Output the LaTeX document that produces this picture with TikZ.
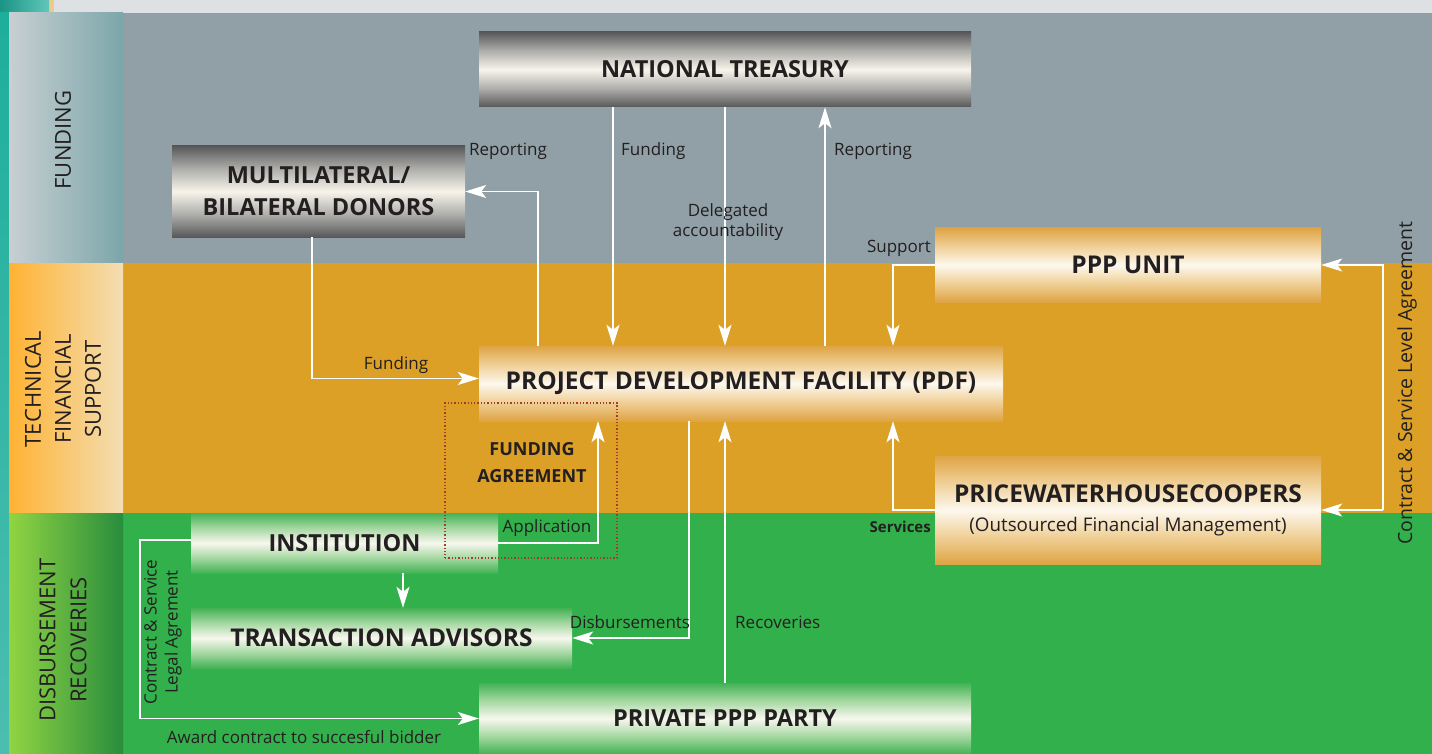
\documentclass[tikz,border=0pt]{standalone}
\usepackage{fontspec}
\setmainfont{Open Sans}
\usetikzlibrary{arrows.meta}

\definecolor{ink}{HTML}{231F20}
\definecolor{topgrey}{HTML}{DDE1E3}
\definecolor{tealedge}{HTML}{1EAE9C}
\definecolor{beige}{HTML}{E9CB8E}
\definecolor{fundgrey}{HTML}{90A0A6}
\definecolor{techorange}{HTML}{DCA027}
\definecolor{disbgreen}{HTML}{32B04C}
\definecolor{agreered}{HTML}{A83A2A}
\definecolor{metdark}{HTML}{58585A}
\definecolor{metmid}{HTML}{ABABA8}
\definecolor{metlight}{HTML}{F8F4EB}
\definecolor{ordark}{HTML}{DFA444}
\definecolor{ormid}{HTML}{F0D19A}
\definecolor{orlight}{HTML}{FDF8EE}
\definecolor{grdark}{HTML}{43B255}
\definecolor{grmid}{HTML}{A8D9A4}
\definecolor{grlight}{HTML}{F7F7EE}

\pgfdeclareverticalshading{metal}{100bp}{color(0bp)=(metdark); color(25bp)=(metdark); color(37bp)=(metmid); color(50bp)=(metlight); color(63bp)=(metmid); color(75bp)=(metdark); color(100bp)=(metdark)}
\pgfdeclareverticalshading{gold}{100bp}{color(0bp)=(ordark); color(25bp)=(ordark); color(38bp)=(ormid); color(50bp)=(orlight); color(62bp)=(ormid); color(75bp)=(ordark); color(100bp)=(ordark)}
\pgfdeclareverticalshading{leaf}{100bp}{color(0bp)=(grdark); color(25bp)=(grdark); color(38bp)=(grmid); color(50bp)=(grlight); color(62bp)=(grmid); color(75bp)=(grdark); color(100bp)=(grdark)}

\begin{document}
\begin{tikzpicture}
  [x=1pt, y=-1pt,
   every node/.style={text=ink},
   boxfont/.style={font=\fontsize{24.5}{29}\selectfont\bfseries},
   metalbox/.style={boxfont, shade, shading=metal, inner sep=0pt, align=center},
   goldbox/.style={boxfont, shade, shading=gold, inner sep=0pt, align=center},
   leafbox/.style={boxfont, shade, shading=leaf, inner sep=0pt, align=center},
   lbl/.style={font=\fontsize{17}{20}\selectfont, inner sep=0pt, align=center},
   side/.style={font=\fontsize{22}{30}\selectfont, rotate=90, inner sep=0pt, align=center},
   flow/.style={draw=white, line width=1.5pt, -{Stealth[length=21pt,width=13pt,inset=5pt]}}]

  \useasboundingbox (0,0) rectangle (1432,754);

  % bands
  \fill[topgrey] (0,0) rectangle (1432,13);
  \fill[beige] (49,0) rectangle (54,13);
  \fill[fundgrey] (123,13) rectangle (1432,263);
  \fill[techorange] (123,263) rectangle (1432,513);
  \fill[disbgreen] (123,513) rectangle (1432,754);
  \shade[left color=tealedge!85!black, right color=tealedge!70!white] (0,0) rectangle (49,13);
  \shade[top color=tealedge, bottom color=tealedge!80!white] (0,13) rectangle (9,754);
  \shade[shading angle=30, left color=fundgrey!50!white, right color=fundgrey!70!teal!85!white] (9,13) rectangle (123,263);
  \shade[shading angle=-40, left color=orange!75!yellow!80!white, right color=techorange!35!white] (9,263) rectangle (123,513);
  \shade[shading angle=-30, left color=disbgreen!60!yellow!90!white, right color=disbgreen!80!black] (9,513) rectangle (123,754);

  \node[side] (sfund) at (63,140) {FUNDING};
  \node[side] (stech) at (63,389) {TECHNICAL\\FINANCIAL\\SUPPORT};
  \node[side, font=\fontsize{22}{31}\selectfont] (sdisb) at (63,640) {DISBURSEMENT\\RECOVERIES};

  % boxes
  \node[metalbox, minimum width=492pt, minimum height=75pt, font=\fontsize{23.5}{29}\selectfont\bfseries] (treasury) at (725,69.5) {NATIONAL TREASURY};
  \node[metalbox, minimum width=293pt, minimum height=91pt, font=\fontsize{23.5}{32}\selectfont\bfseries] (donors) at (318.5,191.5) {MULTILATERAL/\\BILATERAL DONORS};
  \node[goldbox, minimum width=386pt, minimum height=74pt] (pppunit) at (1128,265) {PPP UNIT};
  \node[goldbox, minimum width=524pt, minimum height=75pt] (pdf) at (741,383.5) {PROJECT DEVELOPMENT FACILITY (PDF)};
  \node[goldbox, minimum width=386pt, minimum height=108pt] (pwc) at (1128,510) {PRICEWATERHOUSECOOPERS\\[0pt]{\fontsize{18.8}{22}\selectfont\mdseries (Outsourced Financial Management)}};
  \node[leafbox, minimum width=307pt, minimum height=60pt, font=\fontsize{23.5}{29}\selectfont\bfseries] (institution) at (344.5,543) {INSTITUTION};
  \node[leafbox, minimum width=381pt, minimum height=60pt] (advisors) at (381.5,638) {TRANSACTION ADVISORS};
  \node[leafbox, minimum width=492pt, minimum height=71pt, font=\fontsize{23.5}{29}\selectfont\bfseries] (private) at (725,718.5) {PRIVATE PPP PARTY};

  \node[draw=agreered, dotted, line width=1.3pt, minimum width=172pt, minimum height=155pt, inner sep=0pt] (agreement) at (531,480.5) {};

  % lanes
  \coordinate (repd) at (538,0);
  \coordinate (fundt) at (613,0);
  \coordinate (rept) at (825,0);
  \coordinate (supp) at (893,0);
  \coordinate (sla) at (1383,0);
  \coordinate (fundd) at (312,0);
  \coordinate (appl) at (598,0);
  \coordinate (adv) at (403,0);
  \coordinate (disb) at (689,0);
  \coordinate (award) at (140,630);

  % connectors
  \draw[flow] (pdf.north -| repd) |- (donors.east);
  \draw[flow] (treasury.south -| fundt) -- (pdf.north -| fundt);
  \draw[flow] (treasury.south) -- (pdf.north -| treasury.south);
  \draw[flow] (pdf.north -| rept) -- (treasury.south -| rept);
  \draw[flow] (pppunit.west) -| (pdf.north -| supp);
  \draw[flow] (pwc.west) -| (pdf.south -| supp);
  \draw[flow] (pwc.east -| sla) |- (pppunit.east);
  \draw[flow] (pwc.east -| sla) -- (pwc.east);
  \draw[flow] (donors.south -| fundd) |- ([yshift=5pt]pdf.west);
  \draw[flow] (institution.east) -| (pdf.south -| appl);
  \draw[flow] (institution.south -| adv) -- (advisors.north -| adv);
  \draw[flow] (pdf.south -| disb) |- (advisors.east);
  \draw[flow] (private.north) -- (pdf.south -| private.north);
  \draw[flow] ([yshift=3pt]institution.west) -| (award) |- (private.west);

  % connector labels
  \node[lbl, anchor=west] (lrepd) at (469,151) {Reporting};
  \node[lbl, anchor=west] (lfundt) at (621,151) {Funding};
  \node[lbl] (ldeleg) at (728,222) {Delegated\\accountability};
  \node[lbl, anchor=west] (lrept) at (834,151) {Reporting};
  \node[lbl, anchor=east] (lsupp) at (931,248) {Support};
  \node[lbl, anchor=east, font=\fontsize{15}{18}\selectfont\bfseries] (lserv) at (931,527) {Services};
  \node[lbl, rotate=90, font=\fontsize{19.5}{22}\selectfont] (lsla) at (1407,383) {Contract \& Service Level Agreement};
  \node[lbl] (lfundd) at (396,365) {Funding};
  \node[lbl] (lappl) at (547,528) {Application};
  \node[lbl, font=\fontsize{18}{27}\selectfont\bfseries] (lagree) at (532,463) {FUNDING\\AGREEMENT};
  \node[lbl] (ldisb) at (630,622) {Disbursements};
  \node[lbl, anchor=west] (lrecov) at (735,622) {Recoveries};
  \node[lbl, rotate=90, font=\fontsize{17}{21}\selectfont] (lcsla) at (163,632) {Contract \& Service\\Legal Agrement};
  \node[lbl] (laward) at (304,737) {Award contract to succesful bidder};
\end{tikzpicture}
\end{document}
